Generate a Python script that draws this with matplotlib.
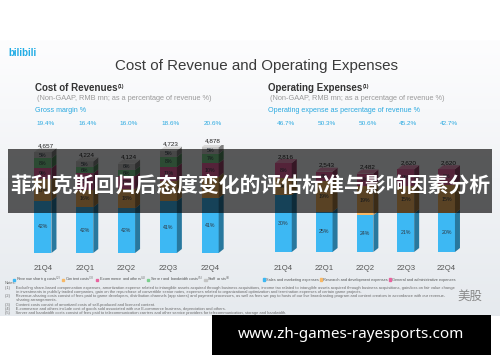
import numpy as np
import matplotlib.pyplot as plt
import matplotlib.colors as mcolors
from matplotlib.patches import Polygon, Rectangle, Patch

plt.rcParams['font.family'] = ['Liberation Sans', 'DejaVu Sans']

# ---- data ----
quarters = ['21Q4', '22Q1', '22Q2', '22Q3', '22Q4']

cost_totals = [4657, 4224, 4124, 4723, 4878]
cost_labels = ['4,657', '4,224', '4,124', '4,723', '4,878']
gross_margin = ['19.4%', '16.4%', '16.0%', '18.6%', '20.6%']
revenue_sharing = [42, 42, 42, 41, 41]
content_costs = [17, 16, 18, 16, 16]
ecommerce_others = [9, 15, 12, 11, 10]
server_bandwidth = [8, 6, 6, 8, 7]
staff_costs = [5, 5, 6, 5, 5]

opex_totals = [2816, 2543, 2482, 2620, 2620]
opex_labels = ['2,816', '2,543', '2,482', '2,620', '2,620']
opex_ratio = ['46.7%', '50.3%', '50.6%', '45.2%', '42.7%']
sales_marketing = [30, 25, 24, 21, 20]
research_dev = [9, 19, 19, 15, 15]
general_admin = [8, 6, 8, 9, 8]

cost_names = ['Revenue sharing costs$^{(2)}$', 'Content costs$^{(3)}$', 'E-commerce and others$^{(4)}$',
              'Server and bandwidth costs$^{(5)}$', 'Staff costs$^{(6)}$']
opex_names = ['Sales and marketing expenses', 'Research and development expenses',
              'General and administrative expenses']

BLUE = '#3db8f3'
ORANGE = '#f7b866'
PINK = '#e8639f'
GREEN = '#7ccf8e'
GREY = '#c4c4c4'
TXT_BLUE = '#2aa9e0'

W, H = 500, 362
fig = plt.figure(figsize=(W / 100, H / 100), dpi=100)


def box(x0, y0, x1, y1):
    return [x0 / W, 1 - y1 / H, (x1 - x0) / W, (y1 - y0) / H]


# background in pixel coordinates
bg = fig.add_axes([0, 0, 1, 1])
bg.set_xlim(0, W)
bg.set_ylim(H, 0)
bg.axis('off')
grad = np.linspace(0, 1, 200)[:, None]
cmap = mcolors.LinearSegmentedColormap.from_list('slide', ['#fdfdfe', '#f1f3f6', '#e6eaee'])
bg.imshow(grad, extent=[0, W, 316, 40], cmap=cmap, aspect='auto', zorder=0)

bg.text(8, 53, 'bilibili', fontsize=7, fontweight='bold', color='#23ade5', va='center')
bg.text(115, 66, 'Cost of Revenue and Operating Expenses', fontsize=10.9, color='#3a3a3a', va='center')

for x0, head, sub, blue in [(35, 'Cost of Revenues', '(Non-GAAP, RMB mn; as a percentage of revenue %)', 'Gross margin %'),
                            (268, 'Operating Expenses', '(Non-GAAP, RMB mn; as a percentage of revenue %)',
                             'Operating expense as percentage of revenue %')]:
    t = bg.text(x0, 88, head, fontsize=7, fontweight='bold', color='#333333', va='center')
    bg.annotate('(1)', xy=(1, 1), xycoords=t, xytext=(0.5, -1), textcoords='offset points',
                fontsize=3.8, fontweight='bold', color='#333333', va='top')
    bg.text(x0 + 2, 99, sub, fontsize=5.3, color='#9a9a9a', va='center')
    bg.text(x0, 110, blue, fontsize=5.1, color=TXT_BLUE, va='center')


def darker(c, f=0.65):
    r, g, b = mcolors.to_rgb(c)
    return (r * f, g * f, b * f)


def lighter(c, f=0.35):
    r, g, b = mcolors.to_rgb(c)
    return (r + (1 - r) * f, g + (1 - g) * f, b + (1 - b) * f)


def draw_panel(ax, totals, total_labels, parts, colors, ratio_labels, width=0.41):
    x = np.arange(len(totals))
    p0 = ax.transData.transform((0, 0))
    p1 = ax.transData.transform((1, 1))
    dx = 5 / (p1[0] - p0[0])
    dy = 4 / (p1[1] - p0[1])
    pct = np.array(parts, dtype=float)
    heights = pct / pct.sum(axis=0) * np.array(totals)
    bottoms = np.vstack([np.zeros(len(totals)), np.cumsum(heights, axis=0)[:-1]])
    for k, c in enumerate(colors):
        ax.bar(x, heights[k], bottom=bottoms[k], width=width, color=c, linewidth=0, zorder=2)
        for i in x:
            b, h = bottoms[k][i], heights[k][i]
            xr = i + width / 2
            ax.add_patch(Polygon([(xr, b), (xr + dx, b + dy), (xr + dx, b + h + dy), (xr, b + h)],
                                 closed=True, color=darker(c), lw=0, zorder=2))
            ax.text(i, b + h / 2, f'{int(pct[k][i])}%', fontsize=3.8, color='#2f3a45',
                    ha='center', va='center', zorder=3)
    top_c = colors[-1]
    for i in x:
        t = totals[i]
        xl, xr = i - width / 2, i + width / 2
        ax.add_patch(Polygon([(xl, t), (xr, t), (xr + dx, t + dy), (xl + dx, t + dy)],
                             closed=True, color=lighter(top_c), lw=0, zorder=2))
        ax.text(i + dx / 2, t + dy, total_labels[i], fontsize=4.6, color='#222222',
                ha='center', va='bottom', zorder=3)
        ax.annotate(ratio_labels[i], xy=(i + dx / 2, 1 - 123 / H), xycoords=('data', 'figure fraction'),
                    fontsize=4.6, color=TXT_BLUE, ha='center', va='center')
        ax.annotate(quarters[i], xy=(i, 1 - 268 / H), xycoords=('data', 'figure fraction'),
                    fontsize=5.6, color='#555555', ha='center', va='center')
    ax.axis('off')


ax1 = fig.add_axes(box(22, 253 - 108.4, 231, 253))
ax1.set_xlim(-0.5, 4.5)
ax1.set_ylim(0, 5000)
draw_panel(ax1, cost_totals, cost_labels,
           [revenue_sharing, content_costs, ecommerce_others, server_bandwidth, staff_costs],
           [BLUE, ORANGE, PINK, GREEN, GREY], gross_margin)

ax2 = fig.add_axes(box(263, 252 - 94.8, 467, 252))
ax2.set_xlim(-0.5, 4.5)
ax2.set_ylim(0, 3000)
draw_panel(ax2, opex_totals, opex_labels,
           [sales_marketing, research_dev, general_admin],
           [BLUE, ORANGE, PINK], opex_ratio)

leg_kw = dict(frameon=False, fontsize=2.75, handlelength=0.6, handleheight=0.6, handletextpad=0.15,
              columnspacing=0.35, borderaxespad=0, borderpad=0, loc='center left', labelcolor='#555555')
fig.legend(handles=[Patch(color=c, label=n) for c, n in zip([BLUE, ORANGE, PINK, GREEN, GREY], cost_names)],
           ncol=5, bbox_to_anchor=(13 / W, 1 - 280 / H), **leg_kw)
fig.legend(handles=[Patch(color=c, label=n) for c, n in zip([BLUE, ORANGE, PINK], opex_names)],
           ncol=3, bbox_to_anchor=(263 / W, 1 - 280 / H), **leg_kw)

notes = [
    (5, 283.5, 'Notes:'),
    (5, 288, '(1)     Excluding share-based compensation expenses, amortization expense related to intangible assets acquired through business acquisitions, income tax related to intangible assets acquired through business acquisitions, gain/loss on fair value change'),
    (5, 292, '          in investments in publicly traded companies, gain on the repurchase of convertible senior notes, expenses related to organizational optimization and termination expenses of certain game projects.'),
    (5, 296.5, '(2)     Revenue-sharing costs consist of fees paid to game developers, distribution channels (app stores) and payment processors, as well as fees we pay to hosts of our live broadcasting program and content creators in accordance with our revenue-'),
    (5, 300.5, '          sharing arrangements.'),
    (5, 305, '(3)     Content costs consist of amortized costs of self-produced and licensed content.'),
    (5, 309, '(4)     E-commerce and others include cost of goods sold associated with our E-commerce business, depreciation and others.'),
    (5, 313, '(5)     Server and bandwidth costs consist of fees paid to telecommunication carriers and other service providers for telecommunication, storage and bandwidth.'),
]
for x0, y0, s in notes:
    bg.text(x0, y0, s, fontsize=2.9, color='#6a6a6a', va='center')
bg.text(470, 296, '美股', fontsize=9, color='#8a8a8a', va='center', ha='center',
        family=['Noto Sans CJK SC', 'DejaVu Sans'])

# overlays on top of the slide
top = fig.add_axes([0, 0, 1, 1], zorder=5)
top.set_xlim(0, W)
top.set_ylim(H, 0)
top.axis('off')
top.add_patch(Rectangle((8, 149), 484, 64, color='black', alpha=0.64, lw=0))
top.text(250, 185, '菲利克斯回归后态度变化的评估标准与影响因素分析', fontsize=15, fontweight='bold',
         color='white', ha='center', va='center', family=['Noto Sans CJK SC', 'DejaVu Sans'])
top.add_patch(Rectangle((212, 315), 279, 40, color='black', lw=0))
top.text(351, 335, 'www.zh-games-rayesports.com', fontsize=11, fontweight='bold', color='white',
         ha='center', va='center', family=['Noto Sans', 'DejaVu Sans'])

fig.savefig('out.png', dpi=100)
